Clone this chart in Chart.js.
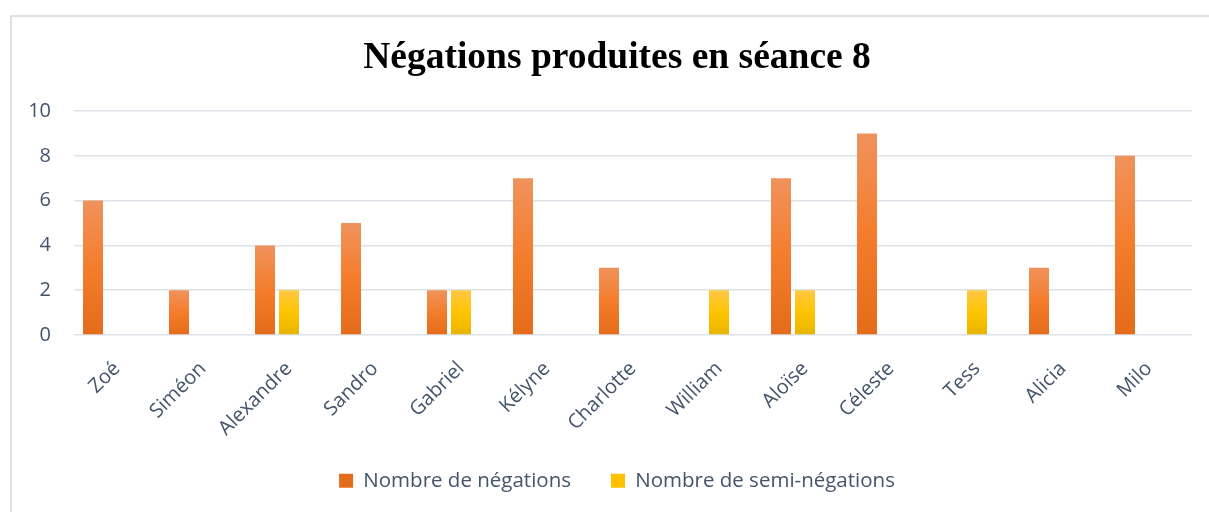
<!DOCTYPE html>
<html>
<head>
<meta charset="utf-8">
<title>Négations produites en séance 8</title>
<script src="https://cdn.jsdelivr.net/npm/chart.js@4/dist/chart.umd.min.js"></script>
<style>
  html, body { margin: 0; padding: 0; background: #fff; overflow: hidden; }
  .frame {
    position: absolute; left: 10px; top: 15px; width: 1300px; height: 600px;
    border-left: 2px solid #dde1e8; border-top: 2px solid #dde1e8;
  }
  #chart { position: absolute; left: 0; top: 0; }
</style>
</head>
<body>
<div class="frame"></div>
<canvas id="chart" width="1230" height="512"></canvas>
<script>
// data
const students = ['Zoé', 'Siméon', 'Alexandre', 'Sandro', 'Gabriel', 'Kélyne', 'Charlotte',
  'William', 'Aloïse', 'Céleste', 'Tess', 'Alicia', 'Milo'];
const negations = [6, 2, 4, 5, 2, 7, 3, 0, 7, 9, 0, 3, 8];
const semiNegations = [0, 0, 2, 0, 2, 0, 0, 2, 2, 0, 2, 0, 0];
// third (empty) series in the original workbook, keeps the bars shifted left
const emptySeries = [null, null, null, null, null, null, null, null, null, null, null, null, null];
const yTicks = [0, 2, 4, 6, 8, 10];

const textColor = '#44546a';
const gridColor = '#dde1e8';
const labelFont = { family: '"Open Sans", sans-serif', size: 20 };

// per-bar vertical gradient like the Excel fill
function barFill(stops, solid) {
  return (ctx) => {
    const chart = ctx.chart;
    if (ctx.dataIndex === undefined || !chart.scales.y) return solid;
    const v = ctx.raw;
    if (!v) return solid;
    const top = chart.scales.y.getPixelForValue(v);
    const bottom = chart.scales.y.getPixelForValue(0);
    if (!isFinite(top) || !isFinite(bottom) || top === bottom) return solid;
    const g = chart.ctx.createLinearGradient(0, top, 0, bottom);
    g.addColorStop(0, stops[0]);
    g.addColorStop(0.5, stops[1]);
    g.addColorStop(1, stops[2]);
    return g;
  };
}

const fixWidth = (w) => (scale) => { scale.width = w; };
const fixHeight = (h) => (scale) => { scale.height = h; };

// legend sits a bit closer to the rotated labels than chart.js would put it
const liftLegend = {
  id: 'liftLegend',
  afterLayout(chart) {
    const l = chart.legend;
    if (!l) return;
    l.top -= 11;
    l.bottom -= 11;
  }
};

new Chart(document.getElementById('chart'), {
  type: 'bar',
  data: {
    labels: students,
    datasets: [
      {
        label: 'Nombre de négations',
        data: negations,
        backgroundColor: barFill(['#f0925c', '#f47d2c', '#e36b1a'], '#ee7a2e'),
        borderWidth: 0,
        categoryPercentage: 0.837,
        barPercentage: 0.833
      },
      {
        label: 'Nombre de semi-négations',
        data: semiNegations,
        backgroundColor: barFill(['#ffc845', '#ffc400', '#e8b400'], '#ffc000'),
        borderWidth: 0,
        categoryPercentage: 0.837,
        barPercentage: 0.833
      },
      {
        label: '',
        data: emptySeries,
        backgroundColor: '#a5a5a5',
        borderWidth: 0,
        categoryPercentage: 0.837,
        barPercentage: 0.833
      }
    ]
  },
  plugins: [liftLegend],
  options: {
    responsive: false,
    animation: false,
    layout: { padding: { left: 24, right: 20, top: 0, bottom: 0 } },
    plugins: {
      title: {
        display: true,
        text: 'Négations produites en séance 8',
        color: '#000',
        font: { family: '"Liberation Serif", "Times New Roman", serif', size: 37.5, weight: 'bold' },
        padding: { top: 36, bottom: 30 }
      },
      legend: {
        position: 'bottom',
        labels: {
          boxWidth: 14,
          boxHeight: 14,
          padding: 40,
          color: textColor,
          font: { family: '"Open Sans", sans-serif', size: 20.5 },
          filter: (item) => item.datasetIndex < 2
        }
      },
      tooltip: { enabled: false }
    },
    scales: {
      x: {
        grid: { display: false },
        border: { display: false },
        ticks: {
          color: textColor,
          font: labelFont,
          maxRotation: 45,
          minRotation: 45,
          autoSkip: false,
          padding: 14
        },
        afterFit: fixHeight(106.5)
      },
      y: {
        min: 0,
        max: 10,
        afterBuildTicks: (scale) => { scale.ticks = yTicks.map(v => ({ value: v })); },
        grid: { color: gridColor, lineWidth: 1.5, drawTicks: false },
        border: { display: false },
        ticks: {
          color: textColor,
          font: labelFont,
          padding: 23
        },
        afterFit: fixWidth(50)
      },
      // empty right-hand strip of the plot frame
      y2: {
        type: 'linear',
        position: 'right',
        grid: { display: false },
        border: { display: false },
        ticks: { display: false },
        afterFit: fixWidth(18)
      }
    }
  }
});
</script>
</body>
</html>
